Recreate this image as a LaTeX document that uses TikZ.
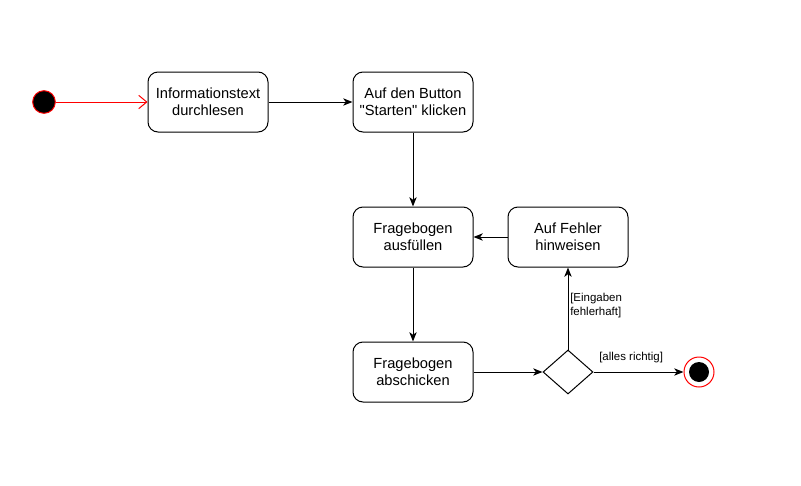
\documentclass[tikz,border=0pt]{standalone}
\usepackage{fontspec}
\setmainfont{Liberation Sans}
\setmonofont{Liberation Sans}
\newcommand\straightdq{{\ttfamily\symbol{34}}}
\usetikzlibrary{arrows.meta,shapes.geometric}
\begin{document}
\begin{tikzpicture}[x=0.75pt,y=-0.75pt,
  act/.style={draw,rounded corners=7.5pt,minimum width=90pt,minimum height=45pt,align=center,font=\fontsize{11}{13}\selectfont,line width=0.75pt},
  conn/.style={draw,line width=0.75pt,-{Stealth[length=7pt,width=5.5pt,inset=2pt]}},
  lbl/.style={font=\fontsize{8.6}{10.5}\selectfont,align=left,inner sep=0pt}]
\useasboundingbox (0,0) rectangle (801,486);
\node[circle,draw=red,fill=black,minimum size=17pt,inner sep=0pt,line width=0.75pt] (start) at (44,102) {};
\node[act] (info) at (208,102) {Informationstext\\durchlesen};
\node[act] (btn) at (413,102) {Auf den Button\\\straightdq Starten\straightdq{} klicken};
\node[act] (fill) at (413,237) {Fragebogen\\ausfüllen};
\node[act] (err) at (568,237) {Auf Fehler\\hinweisen};
\node[act] (send) at (413,372) {Fragebogen\\abschicken};
\node[diamond,draw,line width=0.75pt,minimum width=37.5pt,minimum height=33pt,inner sep=0pt,aspect=1.14] (dec) at (568,372) {};
\node[circle,draw=red,line width=0.75pt,minimum size=22.5pt,inner sep=0pt] (endo) at (699,372) {};
\node[circle,fill=black,minimum size=15pt,inner sep=0pt] (endi) at (699,372) {};
\draw[red,line width=0.75pt,-{Straight Barb[length=6pt,width=10pt]}] (start) -- (info);
\draw[conn] (info) -- (btn);
\draw[conn] (btn) -- (fill);
\draw[conn] (fill) -- (send);
\draw[conn] (send) -- (dec);
\draw[conn] (dec.north) -- (err.south);
\draw[conn] (err) -- (fill);
\draw[conn] (dec.east) -- (endo.west);
\node[lbl,anchor=north west] (l1) at (570,293) {[Eingaben\\fehlerhaft]};
\node[lbl,anchor=west] (l2) at (599,358) {[alles richtig]};
\end{tikzpicture}
\end{document}
